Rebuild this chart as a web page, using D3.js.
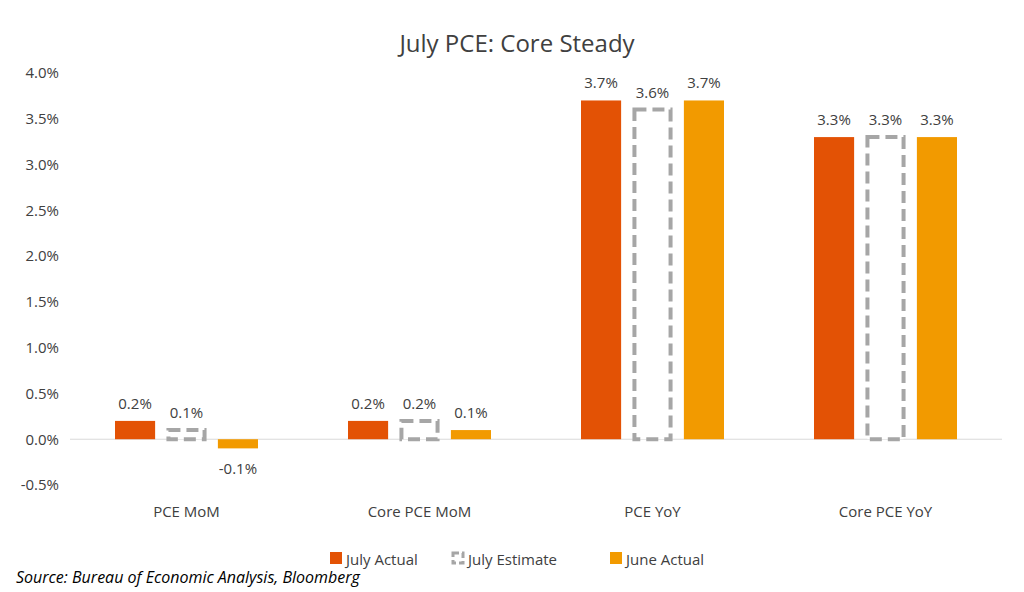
<!DOCTYPE html>
<html><head><meta charset="utf-8">
<script src="https://cdn.jsdelivr.net/npm/d3@7"></script>
<style>body{margin:0;background:#fff;font-family:"Open Sans",sans-serif;}</style>
</head><body>
<svg id="c" width="1024" height="592"></svg>
<script>
var categories = ["PCE MoM", "Core PCE MoM", "PCE YoY", "Core PCE YoY"];
var seriesNames = ["July Actual", "July Estimate", "June Actual"];
var julyActual = [0.2, 0.2, 3.7, 3.3];
var julyEstimate = [0.1, 0.2, 3.6, 3.3];
var juneActual = [-0.1, 0.1, 3.7, 3.3];
var yTicks = [-0.5, 0, 0.5, 1.0, 1.5, 2.0, 2.5, 3.0, 3.5, 4.0];
var colors = ["#e35205", "#a6a6a6", "#f29a00"];

var svg = d3.select("#c");
var series = [julyActual, julyEstimate, juneActual];

var x = d3.scaleBand().domain(categories).range([70, 1002]);
var xs = d3.scaleBand().domain(d3.range(3)).range([0, 143]).paddingInner(0.22);
var y = d3.scaleLinear().domain([-0.5, 4.0]).range([485, 73]);

svg.append("text").attr("x", 517).attr("y", 52).attr("text-anchor", "middle")
  .attr("font-size", 24).attr("fill", "#404040").text("July PCE: Core Steady");

var yAxis = svg.append("g").attr("transform", "translate(62,0)")
  .call(d3.axisLeft(y).tickValues(yTicks).tickSize(0).tickFormat(function (d) { return d.toFixed(1) + "%"; }));
yAxis.select(".domain").remove();
yAxis.selectAll("text").attr("font-size", 15).attr("fill", "#404040").attr("font-family", "Open Sans");

svg.append("line").attr("x1", 70).attr("x2", 1002).attr("y1", y(0)).attr("y2", y(0))
  .attr("stroke", "#d9d9d9").attr("stroke-width", 1);

categories.forEach(function (c, i) {
  var gx = x(c) + (x.bandwidth() - 143) / 2;
  series.forEach(function (s, k) {
    var v = s[i];
    var bx = gx + xs(k), bw = xs.bandwidth();
    var top = y(Math.max(v, 0)), h = Math.abs(y(v) - y(0));
    if (k === 1) {
      svg.append("rect").attr("x", bx + 2).attr("y", top).attr("width", bw - 4).attr("height", h)
        .attr("fill", "#fff").attr("stroke", colors[1]).attr("stroke-width", 4).attr("stroke-dasharray", "12,6");
    } else {
      svg.append("rect").attr("x", bx).attr("y", top).attr("width", bw).attr("height", h).attr("fill", colors[k]);
    }
    var ly = v >= 0 ? y(v) - 12 : y(v) + 26;
    svg.append("text").attr("x", bx + bw / 2).attr("y", ly).attr("text-anchor", "middle")
      .attr("font-size", 15).attr("fill", "#404040").text(v.toFixed(1) + "%");
  });
  svg.append("text").attr("x", x(c) + x.bandwidth() / 2).attr("y", 517).attr("text-anchor", "middle")
    .attr("font-size", 15).attr("fill", "#404040").text(c);
});

var legX = [330, 452, 610];
seriesNames.forEach(function (n, k) {
  if (k === 1) {
    svg.append("rect").attr("x", legX[k] + 1).attr("y", 553).attr("width", 10).attr("height", 10)
      .attr("fill", "#fff").attr("stroke", colors[1]).attr("stroke-width", 3).attr("stroke-dasharray", "6,3");
  } else {
    svg.append("rect").attr("x", legX[k]).attr("y", 552).attr("width", 12).attr("height", 12).attr("fill", colors[k]);
  }
  svg.append("text").attr("x", legX[k] + 16).attr("y", 565).attr("font-size", 15).attr("fill", "#404040").text(n);
});

svg.append("text").attr("x", 16).attr("y", 583).attr("font-size", 16).attr("font-style", "italic")
  .attr("fill", "#000").text("Source: Bureau of Economic Analysis, Bloomberg");
</script>
</body></html>
